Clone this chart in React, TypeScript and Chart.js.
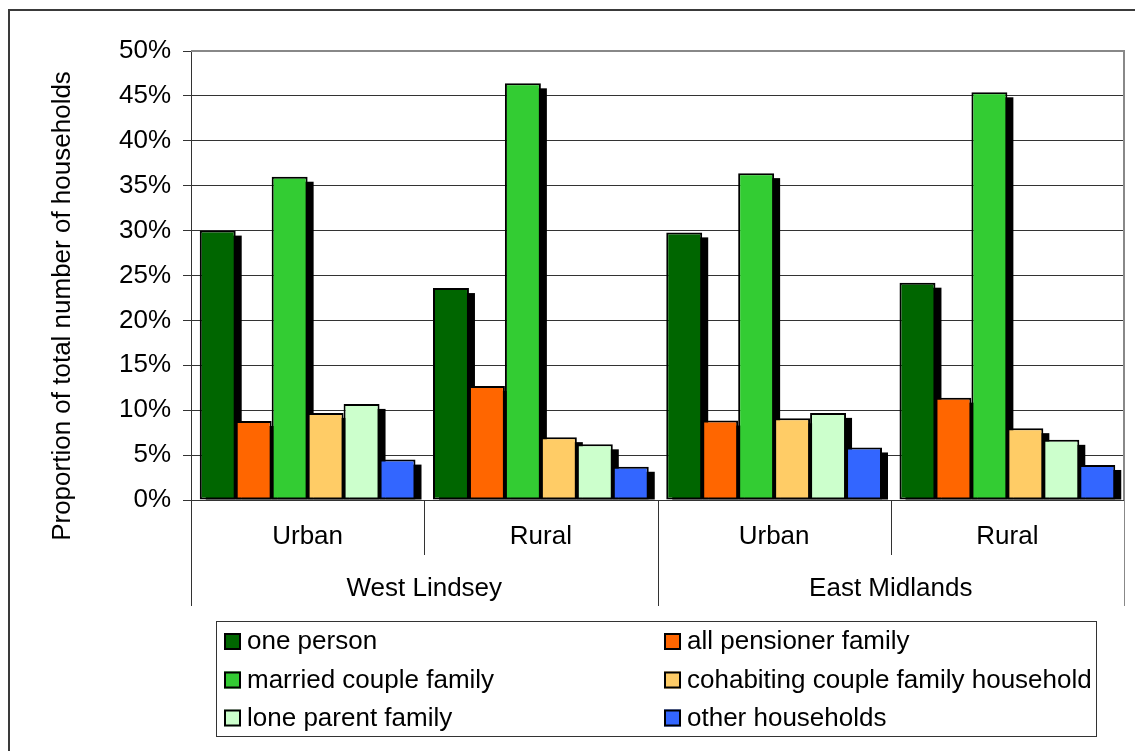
import React, { useEffect, useRef } from 'react';
import { Chart, registerables } from 'chart.js';

Chart.register(...registerables);

const categories = ['Urban', 'Rural', 'Urban', 'Rural'];
const groups = ['West Lindsey', 'East Midlands'];
const seriesNames = [
  'one person',
  'all pensioner family',
  'married couple family',
  'cohabiting couple family household',
  'lone parent family',
  'other households',
];
const seriesColors = ['#006600', '#FF6600', '#33CC33', '#FFCC66', '#CCFFCC', '#3366FF'];
const onePerson = [30.0, 23.6, 29.8, 24.2];
const allPensioner = [8.8, 12.7, 8.85, 11.4];
const marriedCouple = [36.0, 46.4, 36.4, 45.4];
const cohabitingCouple = [9.7, 7.0, 9.1, 8.0];
const loneParent = [10.7, 6.2, 9.7, 6.7];
const otherHouseholds = [4.5, 3.7, 5.85, 3.9];
const yAxisTitle = 'Proportion of total number of households';
const yMin = 0;
const yMax = 50;
const yStep = 5;

const seriesValues = [onePerson, allPensioner, marriedCouple, cohabitingCouple, loneParent, otherHouseholds];

const FONT = "'Liberation Sans', Arial, sans-serif";
const FS = 26;

const decorPlugin = {
  id: 'decor',
  beforeDatasetsDraw(chart: any) {
    const ctx = chart.ctx;
    const area = chart.chartArea;
    ctx.save();
    ctx.beginPath();
    ctx.rect(area.left, area.top, area.right - area.left, area.bottom - area.top);
    ctx.clip();
    ctx.fillStyle = '#000';
    chart.data.datasets.forEach((_: any, di: number) => {
      const meta = chart.getDatasetMeta(di);
      meta.data.forEach((bar: any) => {
        const w = bar.width;
        ctx.fillRect(bar.x - w / 2 + 6, bar.y + 5, w, bar.base - bar.y - 5);
      });
    });
    ctx.restore();
  },
  afterDraw(chart: any) {
    const ctx = chart.ctx;
    const area = chart.chartArea;
    ctx.save();
    // outer border
    ctx.strokeStyle = '#3a3a3a';
    ctx.lineWidth = 2;
    ctx.strokeRect(9, 10, 1140, 800);

    // plot border top/right
    ctx.strokeStyle = '#888';
    ctx.lineWidth = 2;
    ctx.beginPath();
    ctx.moveTo(area.left, area.top);
    ctx.lineTo(area.right, area.top);
    ctx.lineTo(area.right, area.bottom);
    ctx.stroke();

    // category separators
    const n = categories.length;
    const cw = (area.right - area.left) / n;
    ctx.lineWidth = 1;
    for (let i = 0; i <= n; i++) {
      const x = Math.round(area.left + i * cw) + 0.5;
      const long = i % 2 === 0;
      ctx.strokeStyle = i === n ? '#888' : '#333';
      ctx.beginPath();
      ctx.moveTo(x, area.bottom);
      ctx.lineTo(x, long ? area.bottom + 106 : area.bottom + 55);
      ctx.stroke();
    }

    // group labels
    ctx.fillStyle = '#000';
    ctx.font = `${FS}px ${FONT}`;
    ctx.textAlign = 'center';
    ctx.textBaseline = 'middle';
    groups.forEach((g, gi) => {
      const cx = area.left + (gi * 2 + 1) * cw;
      ctx.fillText(g, cx, area.bottom + 89);
    });

    // y axis title
    ctx.save();
    ctx.translate(63, 306);
    ctx.rotate(-Math.PI / 2);
    ctx.fillText(yAxisTitle, 0, 0);
    ctx.restore();

    // legend
    const lx = 216.5, ly = 621.5, lw = 880, lh = 115;
    ctx.strokeStyle = '#333';
    ctx.lineWidth = 1;
    ctx.strokeRect(lx, ly, lw, lh);
    const colX = [224, 664];
    const rowY = [641, 679.5, 717.5];
    ctx.textAlign = 'left';
    chart.data.datasets.forEach((ds: any, i: number) => {
      const col = i % 2;
      const row = Math.floor(i / 2);
      const x = colX[col];
      const y = rowY[row];
      ctx.fillStyle = ds.backgroundColor;
      ctx.fillRect(x, y - 8, 17, 17);
      ctx.strokeStyle = '#000';
      ctx.lineWidth = 2;
      ctx.strokeRect(x + 1, y - 7, 15, 15);
      ctx.fillStyle = '#000';
      ctx.fillText(ds.label, x + 23, y + 1);
    });
    ctx.restore();
  },
};

export default function App() {
  const ref = useRef<HTMLCanvasElement>(null);
  useEffect(() => {
    if (!ref.current) return;
    const chart = new Chart(ref.current, {
      type: 'bar',
      data: {
        labels: categories,
        datasets: seriesNames.map((name, i) => ({
          label: name,
          data: seriesValues[i],
          backgroundColor: seriesColors[i],
          borderColor: '#000',
          borderWidth: 2,
          borderSkipped: false,
          categoryPercentage: 0.925,
          barPercentage: 1,
        })),
      },
      options: {
        animation: false,
        responsive: false,
        devicePixelRatio: 1,
        layout: { padding: { top: 51, right: 11, left: 0, bottom: 0 } },
        plugins: { legend: { display: false }, tooltip: { enabled: false } },
        scales: {
          x: {
            grid: { display: false, drawTicks: false },
            border: { display: false },
            ticks: { padding: 21, color: '#000', font: { family: FONT, size: FS } },
            afterFit: (s: any) => { s.height = 251; },
          },
          y: {
            min: yMin,
            max: yMax,
            ticks: {
              stepSize: yStep,
              padding: 12,
              color: '#000',
              font: { family: FONT, size: FS },
              callback: (v: any) => `${v}%`,
            },
            grid: { color: '#333', lineWidth: 1, tickLength: 8, drawTicks: true },
            border: { color: '#333', width: 1 },
            afterFit: (s: any) => { s.width = 191; },
          },
        },
      },
      plugins: [decorPlugin],
    });
    return () => chart.destroy();
  }, []);
  return (
    <div style={{ position: 'fixed', left: 0, top: 0, width: 1135, height: 751, background: '#fff' }}>
      <canvas ref={ref} width={1135} height={751} style={{ width: 1135, height: 751 }} />
    </div>
  );
}
